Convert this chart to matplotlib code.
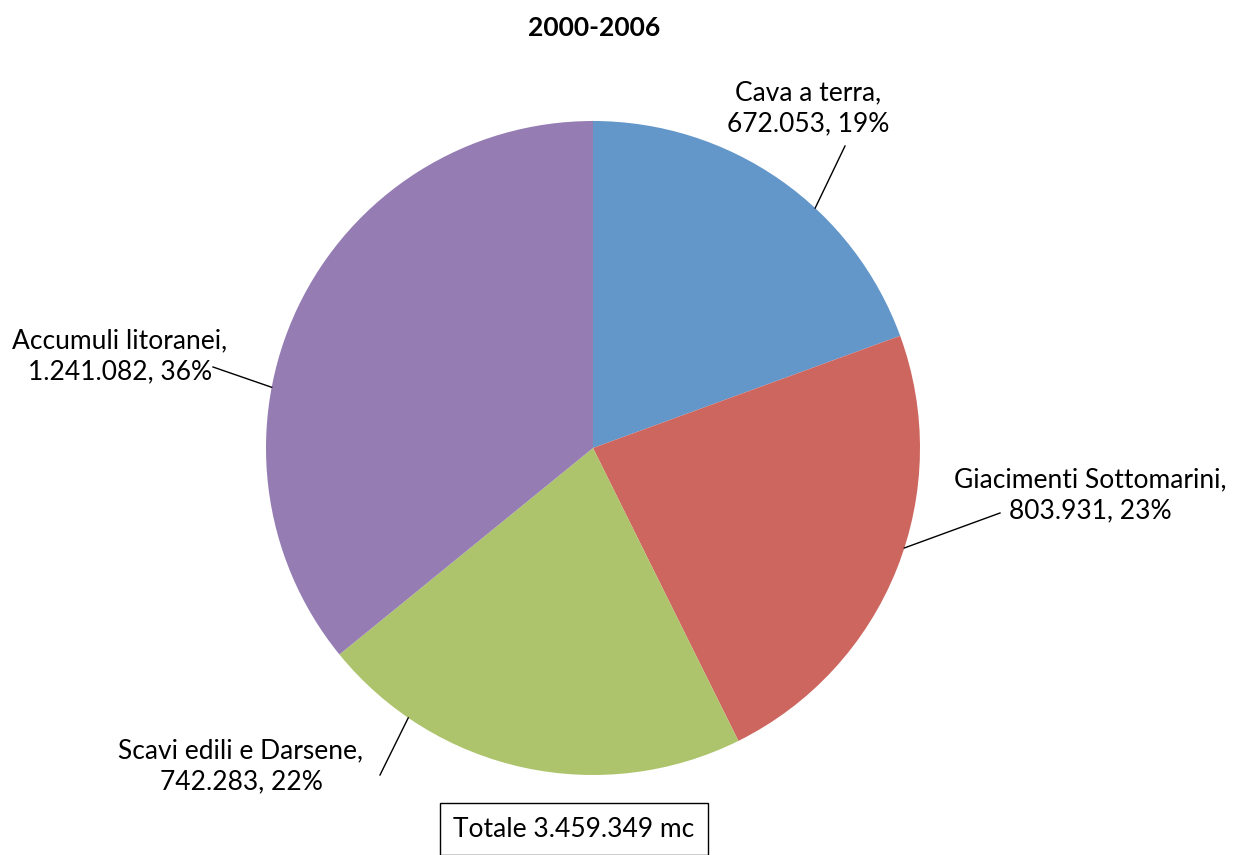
import matplotlib
matplotlib.use("Agg")
import matplotlib.pyplot as plt
import numpy as np

# Sediment sources 2000-2006 (mc)
categories = ["Cava a terra", "Giacimenti Sottomarini", "Scavi edili e Darsene", "Accumuli litoranei"]
volumes = [672053, 803931, 742283, 1241082]
percent_labels = ["19%", "23%", "22%", "36%"]
colors = ["#6396C9", "#CD665F", "#ADC46C", "#957DB4"]
title = "2000-2006"

W, H = 1236, 855
plt.rcParams["font.family"] = ["Lato", "DejaVu Sans"]

fig = plt.figure(figsize=(W / 100, H / 100), dpi=100)
ax = fig.add_axes([0, 0, 1, 1])

cx, cy, r = 593, H - 448, 327
ax.pie(volumes, colors=colors, startangle=90, counterclock=False,
       center=(cx, cy), radius=r, frame=True,
       wedgeprops=dict(linewidth=0))
ax.set_xlim(0, W)
ax.set_ylim(0, H)
ax.set_aspect("equal")
ax.axis("off")


def fmt(v):
    return f"{v:,}".replace(",", ".")


# label text centre (pixels from top-left), leader line start, angle on rim
layout = [
    ((808, 108), (845, 146), 47.2),
    ((1090, 495), (1000, 513), -17.8),
    ((241, 766), (380, 775), 235.6),
    ((120, 356), (213, 367), 169.3),
]

FS = 19
for name, v, p, (tpos, lstart, ang) in zip(categories, volumes, percent_labels, layout):
    ax.text(tpos[0], H - tpos[1], f"{name},\n{fmt(v)}, {p}", ha="center", va="center",
            fontsize=FS, color="black", linespacing=1.3)
    a = np.deg2rad(ang)
    ex, ey = cx + r * np.cos(a), cy + r * np.sin(a)
    ax.plot([lstart[0], ex], [H - lstart[1], ey], color="black", lw=1.0)

ax.text(594, H - 28, title, ha="center", va="center", fontsize=FS, fontweight="bold")

total = sum(volumes)
ax.text(574, H - 829, f"Totale {fmt(total)} mc", ha="center", va="center", fontsize=FS,
        bbox=dict(boxstyle="square,pad=0.5", facecolor="white", edgecolor="black", linewidth=1.0))

fig.savefig("out.png", dpi=100)
